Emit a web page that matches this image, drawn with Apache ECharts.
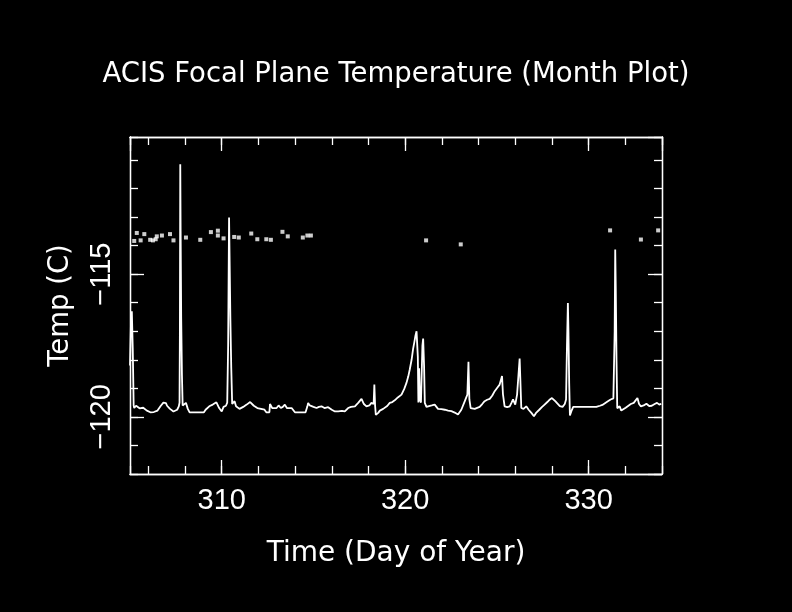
<!DOCTYPE html>
<html>
<head>
<meta charset="utf-8">
<script src="https://cdn.jsdelivr.net/npm/echarts@6/dist/echarts.min.js"></script>
<style>html,body{margin:0;padding:0;background:#000;}#c{width:792px;height:612px;}</style>
</head>
<body>
<div id="c"></div>
<script>
const titleText = "ACIS Focal Plane Temperature (Month Plot)";
const xName = "Time (Day of Year)";
const yName = "Temp (C)";
const xRange = [305, 334];
const yRange = [-122, -110.2];

// main temperature trace
const days = [
305.00,305.05,305.10,305.15,305.20,305.23,305.33,305.43,305.52,305.62,305.72,305.82,305.92,306.01,306.11,306.21,306.30,306.40,306.50,306.59,
306.67,306.75,306.82,306.89,306.96,307.02,307.10,307.18,307.28,307.37,307.47,307.57,307.66,307.70,307.72,307.74,307.76,307.79,307.83,307.87,
307.96,308.05,308.15,308.25,308.45,308.64,308.84,309.03,309.12,309.22,309.32,309.42,309.51,309.61,309.71,309.86,310.00,310.10,310.23,310.30,
310.35,310.40,310.43,310.47,310.52,310.57,310.64,310.70,310.78,310.87,310.97,311.07,311.17,311.26,311.36,311.46,311.55,311.65,311.75,311.84,
311.94,312.04,312.14,312.24,312.33,312.43,312.53,312.60,312.63,312.75,312.87,312.99,313.10,313.22,313.33,313.44,313.55,313.68,313.81,313.99,
314.10,314.28,314.45,314.57,314.67,314.71,314.80,314.89,315.00,315.17,315.30,315.44,315.60,315.80,316.00,316.17,316.35,316.55,316.71,316.89,
317.05,317.26,317.45,317.62,317.75,317.89,318.05,318.16,318.28,318.32,318.36,318.40,318.53,318.62,318.71,318.80,318.89,319.02,319.16,319.30,
319.43,319.60,319.80,319.95,320.07,320.17,320.25,320.35,320.43,320.50,320.56,320.62,320.65,320.69,320.72,320.76,320.80,320.86,320.94,320.98,
321.03,321.07,321.16,321.30,321.45,321.61,321.79,321.97,322.16,322.34,322.52,322.70,322.88,323.06,323.25,323.39,323.45,323.50,323.57,323.79,
324.06,324.20,324.33,324.47,324.61,324.75,324.88,325.02,325.15,325.28,325.33,325.42,325.56,325.70,325.80,325.88,326.00,326.10,326.24,326.33,
326.45,326.60,326.73,326.88,327.02,327.15,327.31,327.45,327.60,327.75,327.89,328.00,328.09,328.18,328.28,328.43,328.58,328.70,328.77,328.82,
328.87,328.90,328.94,328.98,329.06,329.16,330.42,330.62,330.75,330.91,331.05,331.20,331.35,331.42,331.45,331.48,331.52,331.56,331.69,331.78,
331.88,332.02,332.17,332.30,332.46,332.56,332.66,332.75,332.85,333.00,333.15,333.30,333.44,333.60,333.73,333.85,333.96
];
const temps = [
-118.2,-116.8,-116.3,-117.6,-119.6,-119.69,-119.61,-119.61,-119.70,-119.75,-119.68,-119.65,-119.78,-119.81,-119.84,-119.84,-119.83,-119.83,-119.78,-119.75,
-119.62,-119.57,-119.50,-119.45,-119.52,-119.61,-119.68,-119.72,-119.78,-119.81,-119.78,-119.75,-119.63,-119.5,-117.0,-111.15,-113.5,-116.5,-118.5,-119.6,
-119.61,-119.51,-119.72,-119.84,-119.84,-119.84,-119.84,-119.84,-119.75,-119.68,-119.63,-119.60,-119.57,-119.53,-119.49,-119.69,-119.81,-119.65,-119.61,-119.5,
-117.5,-113.02,-114.5,-116.5,-118.3,-119.55,-119.57,-119.45,-119.63,-119.68,-119.72,-119.70,-119.65,-119.60,-119.57,-119.52,-119.48,-119.55,-119.61,-119.66,
-119.69,-119.72,-119.72,-119.75,-119.75,-119.84,-119.84,-119.84,-119.55,-119.69,-119.69,-119.69,-119.60,-119.69,-119.65,-119.57,-119.69,-119.69,-119.69,-119.84,
-119.84,-119.84,-119.84,-119.84,-119.63,-119.51,-119.60,-119.57,-119.65,-119.69,-119.65,-119.63,-119.69,-119.66,-119.75,-119.81,-119.81,-119.79,-119.81,-119.69,
-119.65,-119.63,-119.50,-119.37,-119.55,-119.63,-119.60,-119.51,-119.55,-118.87,-119.6,-119.93,-119.86,-119.78,-119.75,-119.72,-119.75,-119.62,-119.51,-119.48,
-119.42,-119.32,-119.22,-119.02,-118.81,-118.58,-118.34,-118.00,-117.63,-117.38,-117.16,-117.00,-116.93,-117.9,-119.5,-118.3,-119.4,-119.5,-117.5,-117.26,
-118.2,-119.51,-119.65,-119.62,-119.60,-119.57,-119.72,-119.73,-119.75,-119.78,-119.80,-119.85,-119.92,-119.75,-119.45,-119.22,-118.07,-119.39,-119.69,-119.72,
-119.65,-119.55,-119.45,-119.40,-119.37,-119.25,-119.10,-118.98,-118.87,-118.57,-119.2,-119.63,-119.66,-119.63,-119.50,-119.39,-119.57,-119.22,-117.96,-119.69,
-119.72,-119.63,-119.75,-119.86,-119.98,-119.85,-119.75,-119.66,-119.57,-119.48,-119.39,-119.34,-119.30,-119.45,-119.51,-119.62,-119.65,-119.55,-119.39,-117.5,
-116.01,-117.0,-118.8,-119.95,-119.80,-119.65,-119.65,-119.61,-119.58,-119.51,-119.45,-119.39,-119.35,-117.0,-114.14,-115.5,-118.0,-119.70,-119.63,-119.78,
-119.75,-119.68,-119.61,-119.55,-119.51,-119.45,-119.34,-119.55,-119.63,-119.60,-119.54,-119.62,-119.61,-119.55,-119.51,-119.57,-119.54
];

// sparse isolated readings near -113.7
const dotDays = [305.23,305.37,305.58,305.78,306.10,306.25,306.40,306.46,306.74,307.18,307.37,308.05,308.83,309.41,309.79,309.79,310.10,310.68,310.93,311.61,311.94,312.43,312.68,313.31,313.60,314.42,314.67,314.86,321.14,323.03,331.17,332.85,333.79];
const dotTemps = [-113.84,-113.56,-113.82,-113.60,-113.80,-113.82,-113.78,-113.68,-113.65,-113.60,-113.82,-113.72,-113.80,-113.53,-113.48,-113.65,-113.75,-113.70,-113.72,-113.58,-113.78,-113.78,-113.80,-113.52,-113.68,-113.72,-113.65,-113.65,-113.82,-113.96,-113.47,-113.79,-113.47];

const TFONT = "DejaVu Sans";
const NFONT = "Liberation Sans";
const W = '#ffffff';

const lineData = days.map((d, i) => [d, temps[i]]);
const dotData = dotDays.map((d, i) => [d, dotTemps[i]]);

function xAx(pos, step, len, labels) {
  return {
    type: 'value', position: pos, min: xRange[0], max: xRange[1],
    minInterval: step, maxInterval: step,
    axisLine: {show: true, onZero: false, lineStyle: {color: W, width: 1.3}},
    axisTick: {show: true, inside: true, length: len, lineStyle: {color: W, width: 1.3}},
    axisLabel: {show: labels, color: W, fontFamily: NFONT, fontSize: 29, margin: 12, showMinLabel: false, showMaxLabel: false},
    splitLine: {show: false},
    name: labels ? xName : '', nameLocation: 'middle', nameGap: 66,
    nameTextStyle: {color: W, fontFamily: TFONT, fontSize: 28}
  };
}
function yAx(pos, step, len, labels) {
  return {
    type: 'value', position: pos, min: yRange[0], max: yRange[1],
    minInterval: step, maxInterval: step,
    axisLine: {show: true, onZero: false, lineStyle: {color: W, width: 1.3}},
    axisTick: {show: true, inside: true, length: len, lineStyle: {color: W, width: 1.3}},
    axisLabel: {show: labels, color: W, fontFamily: NFONT, fontSize: 29, margin: 14, rotate: 90,
      showMinLabel: false, showMaxLabel: false,
      formatter: v => String(v).replace('-', '\u2212')},
    splitLine: {show: false},
    name: labels ? yName : '', nameLocation: 'middle', nameGap: 55, nameRotate: 90,
    nameTextStyle: {color: W, fontFamily: TFONT, fontSize: 27.5}
  };
}

const chart = echarts.init(document.getElementById('c'), null, {renderer: 'canvas'});
chart.setOption({
  backgroundColor: '#000000',
  animation: false,
  title: {text: titleText, left: 'center', top: 56,
    textStyle: {color: W, fontFamily: TFONT, fontSize: 27.5, fontWeight: 'normal'}},
  grid: {left: 130, top: 137, width: 532, height: 337},
  xAxis: [xAx('bottom', 10, 14, true), xAx('bottom', 2, 8, false), xAx('top', 10, 14, false), xAx('top', 2, 8, false)],
  yAxis: [yAx('left', 5, 14, true), yAx('left', 1, 8, false), yAx('right', 5, 14, false), yAx('right', 1, 8, false)],
  series: [
    {type: 'line', xAxisIndex: 0, yAxisIndex: 0, data: lineData, showSymbol: false,
      lineStyle: {color: W, width: 1.8}, clip: true},
    {type: 'scatter', xAxisIndex: 0, yAxisIndex: 0, data: dotData, symbol: 'rect', symbolSize: [4, 4],
      itemStyle: {color: W}}
  ]
});
</script>
</body>
</html>
